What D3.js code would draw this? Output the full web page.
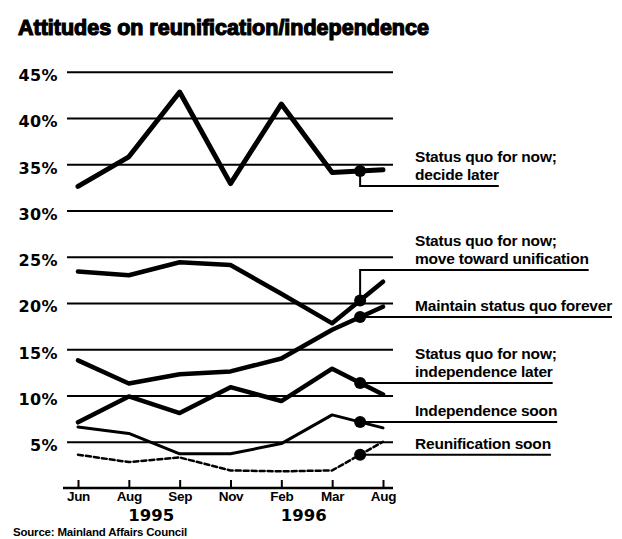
<!DOCTYPE html>
<html>
<head>
<meta charset="utf-8">
<script src="https://cdn.jsdelivr.net/npm/d3@7"></script>
<style>
  body { margin: 0; background: #fff; }
  svg { display: block; }
</style>
</head>
<body>
<div id="chart"></div>
<script>
// Survey rounds (Jun 1995 .. Aug 1996)
var months = ["Jun", "Aug", "Sep", "Nov", "Feb", "Mar", "Aug"];
var years = ["1995", "1996"];
var yearTickPairs = [[1, 2], [4, 5]];   // year label sits between these months
var yTicks = [5, 10, 15, 20, 25, 30, 35, 40, 45];

// percentages
var decideLater       = [32.6, 35.8, 42.8, 32.9, 41.5, 34.1, 34.4];
var towardUnification = [23.4, 23.0, 24.4, 24.1, 21.0, 17.8, 22.3];
var statusQuoForever  = [13.8, 11.3, 12.3, 12.6, 14.0, 17.1, 19.6];
var independenceLater = [7.1, 9.9, 8.1, 10.9, 9.4, 12.9, 10.1];
var independenceSoon  = [6.6, 5.9, 3.7, 3.7, 4.8, 7.9, 6.5];
var reunificationSoon = [3.6, 2.8, 3.3, 1.9, 1.8, 1.9, 5.0];

var seriesNames = [
    ["Status quo for now;", "decide later"],
    ["Status quo for now;", "move toward unification"],
    ["Maintain status quo forever"],
    ["Status quo for now;", "independence later"],
    ["Independence soon"],
    ["Reunification soon"]
];
var seriesValues = [decideLater, towardUnification, statusQuoForever,
                    independenceLater, independenceSoon, reunificationSoon];

// styling per series
var strokeWidths = [5, 4.5, 4.5, 4.5, 3, 2.5];
var dashes = [null, null, null, null, null, "5,3"];
// where the label underline sits when it is not level with the marker
var leaderY = [186, 270, null, null, null, null];

var width = 622, height = 539;

var svg = d3.select('#chart')
    .append('svg')
    .attr('width', width)
    .attr('height', height);

var x = d3.scalePoint()
    .domain(d3.range(months.length))
    .range([78, 383]);

var y = d3.scaleLinear()
    .domain([0, 45])
    .range([488, 71.7]);

// title
svg.append('text')
    .attr('x', 18)
    .attr('y', 35)
    .style('font-family', '"Liberation Sans", Arial, sans-serif')
    .style('font-weight', 'bold')
    .style('font-size', '21.5px')
    .style('stroke', '#000')
    .style('stroke-width', 1.2)
    .text('Attitudes on reunification/independence');

// gridlines + y labels
var yAxis = svg.append('g')
    .attr('transform', 'translate(67,0)')
    .call(d3.axisLeft(y)
        .tickValues(yTicks)
        .tickSize(-326)
        .tickPadding(9)
        .tickFormat(d => d + '%'));

yAxis.select('.domain').remove();
yAxis.selectAll('.tick line')
    .attr('stroke', '#000')
    .attr('stroke-width', 2);
yAxis.selectAll('.tick text')
    .attr('dy', '0.55em')
    .style('font-family', '"DejaVu Sans", sans-serif')
    .style('font-weight', 'bold')
    .style('font-size', '16px')
    .style('letter-spacing', '0.4px')
    .attr('fill', '#000');

// x axis
var xAxis = svg.append('g')
    .attr('transform', 'translate(0,' + y(0) + ')')
    .call(d3.axisBottom(x)
        .tickSizeInner(-8)
        .tickSizeOuter(0)
        .tickPadding(3)
        .tickFormat(i => months[i]));

xAxis.select('.domain').remove();
xAxis.selectAll('.tick line')
    .attr('stroke', '#000')
    .attr('stroke-width', 2);
xAxis.selectAll('.tick text')
    .attr('y', 3)
    .attr('dy', '0.71em')
    .style('font-family', '"Liberation Sans", Arial, sans-serif')
    .style('font-weight', 'bold')
    .style('font-size', '13.5px')
    .style('letter-spacing', '-0.3px')
    .attr('fill', '#000');

svg.append('line')
    .attr('x1', 63)
    .attr('x2', 393)
    .attr('y1', y(0))
    .attr('y2', y(0))
    .attr('stroke', '#000')
    .attr('stroke-width', 2.5);

// years under the month labels
svg.selectAll('.year')
    .data(years)
    .enter()
    .append('text')
    .attr('class', 'year')
    .attr('x', (d, i) => (x(yearTickPairs[i][0]) + x(yearTickPairs[i][1])) / 2 - 3)
    .attr('y', 521)
    .attr('text-anchor', 'middle')
    .style('font-family', '"DejaVu Sans", sans-serif')
    .style('font-weight', 'bold')
    .style('font-size', '16.5px')
    .text(d => d);

// source
svg.append('text')
    .attr('x', 13)
    .attr('y', 536)
    .style('font-family', '"Liberation Sans", Arial, sans-serif')
    .style('font-weight', 'bold')
    .style('font-size', '11.5px')
    .style('letter-spacing', '-0.2px')
    .text('Source: Mainland Affairs Council');

// lines
var line = d3.line()
    .x((d, i) => x(i))
    .y(d => y(d));

svg.selectAll('.series')
    .data(seriesValues)
    .enter()
    .append('path')
    .attr('class', 'series')
    .attr('d', line)
    .attr('fill', 'none')
    .attr('stroke', '#000')
    .attr('stroke-width', (d, i) => strokeWidths[i])
    .attr('stroke-dasharray', (d, i) => dashes[i])
    .attr('stroke-linejoin', 'round')
    .attr('stroke-linecap', 'round');

// markers sit on each line part way between Mar and Aug
var markerT = 0.55;
var markerX = x(5) + markerT * (x(6) - x(5));
var labelX = 415;

seriesValues.forEach(function (vals, i) {
    var my = y(vals[5] + markerT * (vals[6] - vals[5]));
    var uy = leaderY[i] === null ? my : leaderY[i];
    var names = seriesNames[i];

    var g = svg.append('g');

    var label = g.append('text')
        .style('font-family', '"Liberation Sans", Arial, sans-serif')
        .style('font-weight', 'bold')
        .style('font-size', '15.5px')
        .style('letter-spacing', '-0.2px');

    names.forEach(function (t, k) {
        label.append('tspan')
            .attr('x', labelX)
            .attr('y', uy - 6 - (names.length - 1 - k) * 18)
            .text(t);
    });

    var lastWidth = label.selectAll('tspan').nodes()[names.length - 1].getComputedTextLength();

    // leader: from the dot (vertical if needed), then under the label
    var pts = [[markerX, my], [markerX, uy], [labelX + lastWidth, uy]];
    g.append('path')
        .attr('d', d3.line()(pts))
        .attr('fill', 'none')
        .attr('stroke', '#000')
        .attr('stroke-width', 2);

    g.append('circle')
        .attr('cx', markerX)
        .attr('cy', my)
        .attr('r', 6)
        .attr('fill', '#000');
});
</script>
</body>
</html>
